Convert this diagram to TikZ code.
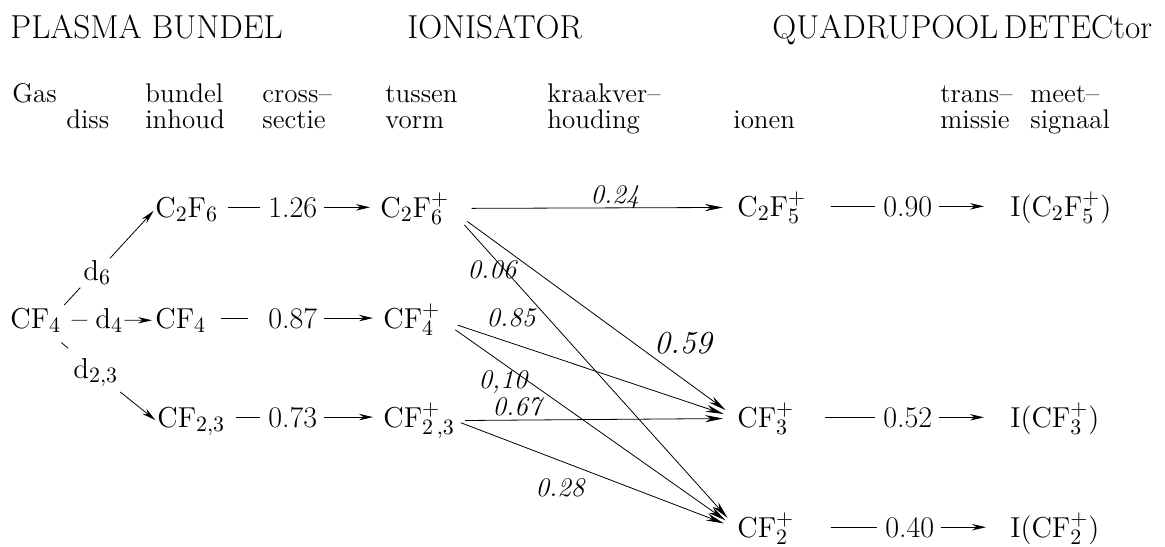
\documentclass[tikz,border=0pt]{standalone}
\usepackage{tikz}
\usetikzlibrary{arrows.meta,positioning}

\begin{document}
\begin{tikzpicture}[
  x=0.5pt, y=-0.5pt,
  every node/.style={font=\fontsize{13.5}{16}\selectfont, inner sep=0pt, anchor=base west},
  head/.style={font=\fontsize{16.6}{19}\selectfont},
  mol/.style={font=\fontsize{15}{18}\selectfont},
  frac/.style={font=\fontsize{13.5}{16}\selectfont\itshape, anchor=center},
  lead/.style={shorten <=5pt, shorten >=4pt},
  arr/.style={-{Stealth[length=7pt,width=3.2pt]}, shorten <=3pt, shorten >=5pt},
  cross/.style={-{Stealth[length=9pt,width=3.6pt]}, shorten <=11pt, shorten >=7pt},
]
\useasboundingbox (0,0) rectangle (1165,546);

% headings
\node[head] (hplasma) at (10,38) {PLASMA BUNDEL};
\node[head] (hion) at (407,38) {IONISATOR};
\node[head] (hquad) at (772,38) {QUADRUPOOL\,DETECtor};

\node (tgas) at (12,102) {Gas};
\node (tdiss) at (66,128) {diss};
\node (tbundel) at (145,102) {bundel};
\node (tinhoud) at (145,128) {inhoud};
\node (tcross) at (262,102) {cross--};
\node (tsectie) at (262,128) {sectie};
\node (ttussen) at (385,102) {tussen};
\node (tvorm) at (385,128) {vorm};
\node (tkraak) at (547,102) {kraakver--};
\node (thouding) at (547,128) {houding};
\node (tionen) at (733,128) {ionen};
\node (ttrans) at (940,102) {trans--};
\node (tmissie) at (940,128) {missie};
\node (tmeet) at (1030,102) {meet--};
\node (tsignaal) at (1030,128) {signaal};

% plasma bundel
\node[mol] (src) at (10,328) {$\mathrm{CF}_4$};
\node[mol] (d6) at (83,280) {$\mathrm{d}_6$};
\node[mol] (d4) at (95,328) {$\mathrm{d}_4$};
\node[mol] (d23) at (73,378) {$\mathrm{d}_{2,3}$};

\node[mol] (c2f6) at (155,217) {$\mathrm{C_2F_6}$};
\node[mol] (cf4) at (155,328) {$\mathrm{CF_4}$};
\node[mol] (cf23) at (157,427) {$\mathrm{CF}_{2,3}$};

\node[mol] (n126) at (268,217) {1.26};
\node[mol] (n087) at (268,328) {0.87};
\node[mol] (n073) at (268,427) {0.73};

% ionisator
\node[mol] (c2f6p) at (380,217) {$\mathrm{C_2F^+_6}$};
\node[mol] (cf4p) at (383,328) {$\mathrm{CF^+_4}$};
\node[mol] (cf23p) at (383,427) {$\mathrm{CF^+_{2\,,3}}$};

% quadrupool detector
\node[mol] (c2f5p) at (737,216) {$\mathrm{C_2F^+_5}$};
\node[mol] (cf3p) at (737,427) {$\mathrm{CF^+_3}$};
\node[mol] (cf2p) at (737,537) {$\mathrm{CF^+_2}$};

\node[mol] (n090) at (883,216) {0.90};
\node[mol] (n052) at (883,427) {0.52};
\node[mol] (n040) at (885,537) {0.40};

\node[mol] (ic2f5) at (1010,216) {$\mathrm{I(C_2F^+_5)}$};
\node[mol] (icf3) at (1010,427) {$\mathrm{I(CF^+_3)}$};
\node[mol] (icf2) at (1010,537) {$\mathrm{I(CF^+_2)}$};

% dissociation
\draw[shorten <=2pt, shorten >=2pt] (src.north east) -- (d6.south west);
\draw[arr, shorten <=1pt, shorten >=1pt] (d6) -- (c2f6.west);
\draw[shorten <=5pt, shorten >=4pt] (src.east) -- (d4.west);
\draw[arr, shorten <=0.5pt, shorten >=1.5pt] (d4.east) -- (cf4.west);
\draw[shorten <=7.5pt, shorten >=7pt] (src) -- (d23);
\draw[arr, shorten <=4pt, shorten >=1pt] (d23) -- (cf23.west);

% cross sections
\draw[lead] (c2f6.east |- n126.west) -- (n126.west);
\draw[arr] (n126.east) -- (c2f6p.west |- n126.east);
\draw[lead, shorten <=7pt, shorten >=10pt] (cf4.east |- n087.west) -- (n087.west);
\draw[arr] (n087.east) -- (cf4p.west |- n087.east);
\draw[lead] (cf23.east |- n073.west) -- (n073.west);
\draw[arr] (n073.east) -- (cf23p.west |- n073.east);

% kraakverhouding
\draw[cross] (c2f6p.east) -- (c2f5p.west);
\draw[cross] (c2f6p.east) -- (cf3p.west);
\draw[cross] (c2f6p.east) -- (cf2p.west);
\draw[cross, shorten <=9pt] (cf4p.east) -- (cf3p.west);
\draw[cross, shorten <=9pt] (cf4p.east) -- (cf2p.west);
\draw[cross, shorten <=5pt] (cf23p.east) -- (cf3p.west);
\draw[cross, shorten <=3pt] (cf23p.east) -- (cf2p.west);

\node[frac] (w024) at (615,197) {0.24};
\node[frac] (w006) at (492,270) {0.06};
\node[frac] (w085) at (511,318) {0.85};
\node[frac, font=\fontsize{16}{19}\selectfont\itshape] (w059) at (683,343) {0.59};
\node[frac] (w010) at (503,382) {0,10};
\node[frac] (w067) at (517,407) {0.67};
\node[frac] (w028) at (560,488) {0.28};

% transmissie
\draw[lead, shorten <=12pt] (c2f5p.east |- n090.west) -- (n090.west);
\draw[arr, shorten >=13pt] (n090.east) -- (ic2f5.west |- n090.east);
\draw[lead, shorten <=15pt] (cf3p.east |- n052.west) -- (n052.west);
\draw[arr, shorten >=13pt] (n052.east) -- (icf3.west |- n052.east);
\draw[lead, shorten <=18pt] (cf2p.east |- n040.west) -- (n040.west);
\draw[arr, shorten >=12pt] (n040.east) -- (icf2.west |- n040.east);

\end{tikzpicture}
\end{document}
